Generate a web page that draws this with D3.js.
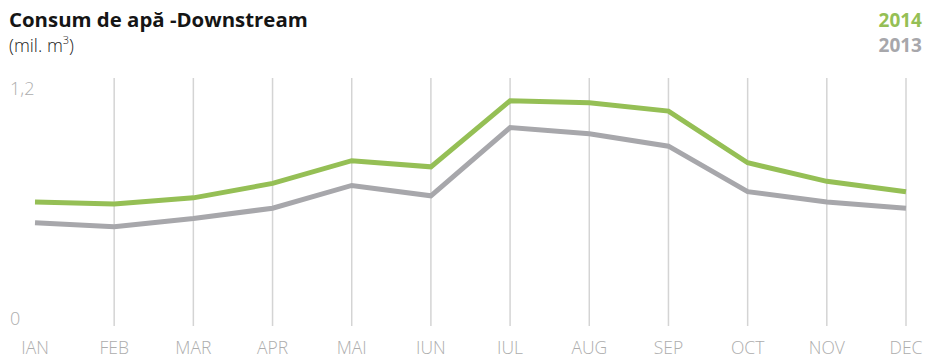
<!DOCTYPE html>
<html>
<head>
<meta charset="utf-8">
<script src="https://cdn.jsdelivr.net/npm/d3@7"></script>
<style>
  html, body { margin: 0; padding: 0; background: #fff; }
  svg { display: block; font-family: "Open Sans", "Noto Sans", sans-serif; }
</style>
</head>
<body>
<svg id="chart" width="928" height="360"></svg>
<script>
// Monthly water consumption, million m³
const months = ["IAN", "FEB", "MAR", "APR", "MAI", "IUN", "IUL", "AUG", "SEP", "OCT", "NOV", "DEC"];
const values2014 = [0.60, 0.59, 0.62, 0.69, 0.80, 0.77, 1.09, 1.08, 1.04, 0.79, 0.70, 0.65];
const values2013 = [0.50, 0.48, 0.52, 0.57, 0.68, 0.63, 0.96, 0.93, 0.87, 0.65, 0.60, 0.57];
const yTicks = [0, 1.2];
const yTickLabels = ["0", "1,2"];

const green = "#95bf55";
const grey = "#a7a7ab";
const labelGrey = "#adadad";

const svg = d3.select("#chart");

const x = d3.scalePoint().domain(months).range([35, 906]);
const y = d3.scaleLinear().domain([0, 1.2]).range([326, 78]);

// vertical gridlines (none at the first month)
svg.append("g")
  .selectAll("line")
  .data(months.slice(1))
  .join("line")
  .attr("x1", d => x(d)).attr("x2", d => x(d))
  .attr("y1", y(1.2)).attr("y2", y(0))
  .attr("stroke", "#d4d4d4")
  .attr("stroke-width", 1.5);

// month labels
svg.append("g")
  .selectAll("text")
  .data(months)
  .join("text")
  .attr("x", d => x(d))
  .attr("y", 354)
  .attr("text-anchor", "middle")
  .attr("fill", labelGrey)
  .attr("font-size", 17.5)
  .attr("font-weight", 300)
  .text(d => d);

// y labels placed inside the plot top and bottom
svg.append("g")
  .selectAll("text")
  .data(yTicks)
  .join("text")
  .attr("x", 10)
  .attr("y", d => d === 0 ? y(d) - 1 : y(d) + 17)
  .attr("fill", labelGrey)
  .attr("font-size", 18)
  .attr("font-weight", 300)
  .text((d, i) => yTickLabels[i]);

const line = d3.line()
  .x((d, i) => x(months[i]))
  .y(d => y(d));

svg.append("path")
  .datum(values2013)
  .attr("d", line)
  .attr("fill", "none")
  .attr("stroke", grey)
  .attr("stroke-width", 5);

svg.append("path")
  .datum(values2014)
  .attr("d", line)
  .attr("fill", "none")
  .attr("stroke", green)
  .attr("stroke-width", 5);

// title block
svg.append("text")
  .attr("x", 9).attr("y", 27)
  .attr("font-size", 20.4)
  .attr("font-weight", 700)
  .attr("fill", "#151515")
  .text("Consum de apă -Downstream");

const sub = svg.append("text")
  .attr("x", 9).attr("y", 52)
  .attr("font-size", 18)
  .attr("font-weight", 300)
  .attr("fill", "#222");
sub.append("tspan").text("(mil. m");
sub.append("tspan").attr("font-size", 11).attr("dy", -8).text("3");
sub.append("tspan").attr("dy", 8).text(")");

// legend
svg.append("text")
  .attr("x", 922).attr("y", 27)
  .attr("text-anchor", "end")
  .attr("font-size", 19).attr("font-weight", 700)
  .attr("fill", green)
  .text("2014");
svg.append("text")
  .attr("x", 922).attr("y", 52)
  .attr("text-anchor", "end")
  .attr("font-size", 19).attr("font-weight", 700)
  .attr("fill", grey)
  .text("2013");
</script>
</body>
</html>
